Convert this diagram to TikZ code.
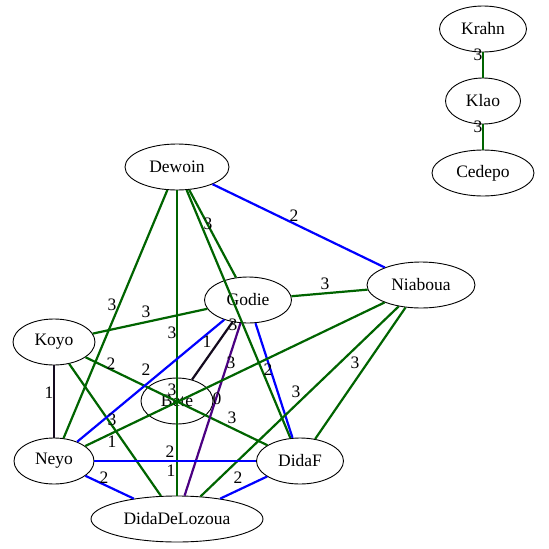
\documentclass[tikz,border=0pt]{standalone}
\usepackage{fontspec}
\setmainfont{Liberation Serif}
\usetikzlibrary{shapes.geometric}
\definecolor{dgreen}{RGB}{0,100,0}
\definecolor{indig}{RGB}{75,0,130}
\definecolor{dark}{RGB}{20,10,30}
\begin{document}
\begin{tikzpicture}[x=1pt,y=-1pt,
  nd/.style={ellipse, draw=black, line width=0.9pt, minimum height=46pt, inner sep=0pt, font=\fontsize{17.5}{20}\selectfont},
  lbl/.style={inner sep=0pt, font=\fontsize{17.5}{20}\selectfont},
  ge/.style={draw=dgreen, line width=2.2pt},
  be/.style={draw=blue, line width=2.2pt},
  ke/.style={draw=dark, line width=2.2pt},
  pe/.style={draw=indig, line width=2.2pt}]
\useasboundingbox[fill=white] (0,0) rectangle (549,549);
% nodes
\node[nd, minimum width=87pt]  (krahn) at (483,29)  {Krahn};
\node[nd, minimum width=75pt]  (klao)  at (483,101) {Klao};
\node[nd, minimum width=102pt] (cedepo) at (483,173) {Cedepo};
\node[nd, minimum width=104pt] (dewoin) at (177,167) {Dewoin};
\node[nd, minimum width=87pt]  (godie) at (248,300) {Godie};
\node[nd, minimum width=108pt] (niaboua) at (421,285) {Niaboua};
\node[nd, minimum width=82pt]  (koyo) at (54,342) {Koyo};
\node[nd, minimum width=72pt]  (bete) at (177,401) {Bete};
\node[nd, minimum width=80pt]  (neyo) at (54,461) {Neyo};
\node[nd, minimum width=87pt]  (didaf) at (300,461) {DidaF};
\node[nd, minimum width=172pt] (ddl) at (177,519) {DidaDeLozoua};
% edges
\draw[ge] (krahn) -- (klao);
\draw[ge] (klao) -- (cedepo);
\draw[be] (dewoin) -- (niaboua);
\draw[ge] (dewoin) -- (neyo);
\draw[ge] (dewoin) -- (ddl);
\draw[ge] (dewoin) -- (godie);
\draw[ge] (dewoin) -- (didaf);
\draw[ge] (godie) -- (niaboua);
\draw[ge] (koyo) -- (godie);
\draw[ke] (koyo) -- (neyo);
\draw[ge] (koyo) -- (didaf);
\draw[ge] (koyo) -- (ddl);
\draw[be] (godie) -- (neyo);
\draw[ke] (godie) -- (bete);
\draw[pe] (godie) -- (ddl);
\draw[be] (godie) -- (didaf);
\draw[ge] (niaboua) -- (neyo);
\draw[ge] (niaboua) -- (ddl);
\draw[ge] (niaboua) -- (didaf);
\draw[be] (neyo) -- (didaf);
\draw[be] (neyo) -- (ddl);
\draw[be] (didaf) -- (ddl);
% labels
\node[lbl] (l1) at (478,55) {3};
\node[lbl] (l2) at (478,127) {3};
\node[lbl] (l3) at (294,216) {2};
\node[lbl] (l4) at (208,224) {3};
\node[lbl] (l5) at (325,284) {3};
\node[lbl] (l6) at (112,305) {3};
\node[lbl] (l7) at (146,312) {3};
\node[lbl] (l8) at (172,333) {3};
\node[lbl] (l9) at (233,325) {3};
\node[lbl] (l10) at (207,342) {1};
\node[lbl] (l11) at (111,364) {2};
\node[lbl] (l12) at (146,370) {2};
\node[lbl] (l13) at (231,363) {3};
\node[lbl] (l14) at (268,370) {2};
\node[lbl] (l15) at (355,363) {3};
\node[lbl] (l16) at (49,393) {1};
\node[lbl] (l17) at (172,390) {3};
\node[lbl] (l18) at (217,399) {0};
\node[lbl] (l19) at (296,392) {3};
\node[lbl] (l20) at (112,420) {3};
\node[lbl] (l21) at (232,418) {3};
\node[lbl] (l22) at (112,442) {1};
\node[lbl] (l23) at (170,452) {2};
\node[lbl] (l24) at (171,471) {1};
\node[lbl] (l25) at (104,478) {2};
\node[lbl] (l26) at (238,478) {2};
\end{tikzpicture}
\end{document}
